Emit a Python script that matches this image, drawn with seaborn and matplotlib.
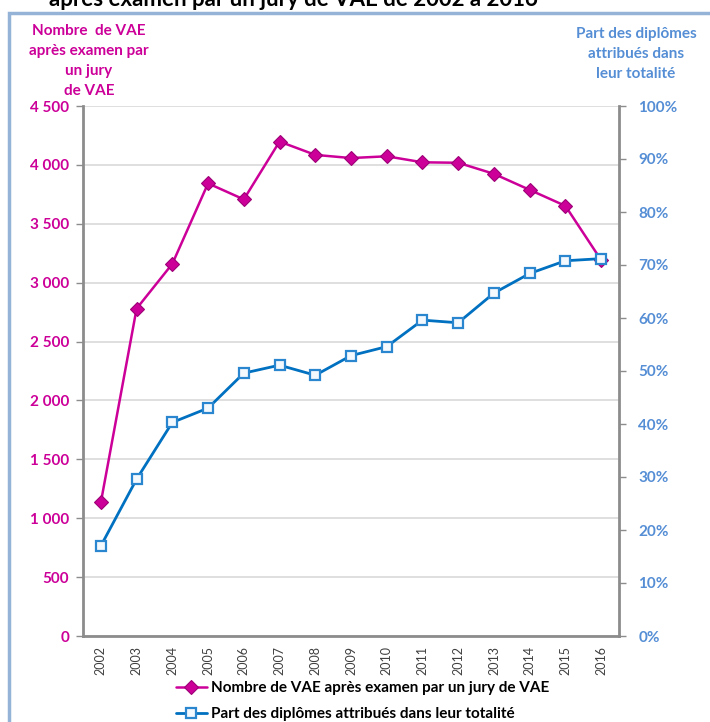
import matplotlib
matplotlib.use("Agg")
import matplotlib.pyplot as plt
import seaborn as sns
import numpy as np
from matplotlib.lines import Line2D
from matplotlib.patches import Rectangle
from matplotlib.ticker import FuncFormatter, MultipleLocator

years = [2002, 2003, 2004, 2005, 2006, 2007, 2008, 2009, 2010, 2011, 2012, 2013, 2014, 2015, 2016]
nombre_vae = [1135, 2780, 3160, 3843, 3707, 4198, 4085, 4058, 4073, 4022, 4018, 3924, 3788, 3652, 3192]
part_diplomes = [17.0, 29.6, 40.3, 43.0, 49.6, 51.1, 49.2, 52.9, 54.6, 59.6, 59.1, 64.7, 68.4, 70.8, 71.2]

label_left = "Nombre  de VAE\naprès examen par\nun jury\nde VAE"
label_right = "Part des diplômes\nattribués dans\nleur totalité"
legend_labels = ["Nombre de VAE après examen par un jury de VAE",
                 "Part des diplômes attribués dans leur totalité"]
title_line = "après examen par un jury de VAE de 2002 à 2016"

PINK = "#CC0099"
BLUE = "#0070C0"
RBLUE = "#558ED5"
GRID = "#D9D9D9"
SPINE = "#8C8C8C"

sns.set_theme(style="white")
plt.rcParams["font.family"] = ["Lato", "DejaVu Sans"]

fig = plt.figure(figsize=(7.1, 7.22), dpi=100)
W, H = 710, 722
ax = fig.add_axes([83 / W, 1 - 636 / H, (619 - 83) / W, (636 - 106) / H])
ax2 = ax.twinx()

sns.lineplot(x=years, y=nombre_vae, ax=ax, color=PINK, linewidth=1.8,
             marker="D", markersize=7, markerfacecolor=PINK, markeredgecolor="#9E0077",
             markeredgewidth=0.8)
sns.lineplot(x=years, y=part_diplomes, ax=ax2, color=BLUE, linewidth=2.0,
             marker="s", markersize=7.5, markerfacecolor="#F4F9FE", markeredgecolor="#2A86CF",
             markeredgewidth=1.6)

ax.set_xlim(years[0] - 0.5, years[-1] + 0.5)
ax.set_ylim(0, 4500)
ax2.set_ylim(0, 100)
ax.yaxis.set_major_locator(MultipleLocator(500))
ax2.yaxis.set_major_locator(MultipleLocator(10))
ax.yaxis.set_major_formatter(FuncFormatter(lambda v, p: f"{int(v):,}".replace(",", " ")))
ax2.yaxis.set_major_formatter(FuncFormatter(lambda v, p: f"{int(v)}%"))

ax.set_xticks(years)
ax.set_xticklabels([str(y) for y in years], rotation=90, fontsize=9, color="#404040")
ax.set_xticks([y + 0.5 for y in [years[0] - 1] + years], minor=True)
ax.tick_params(axis="x", which="major", length=0, pad=7)
ax.tick_params(axis="x", which="minor", length=5, width=1, color=SPINE, direction="out")
ax.tick_params(axis="y", length=5, width=1, color=SPINE, direction="out", labelsize=11,
               labelcolor=PINK, pad=5, left=True)
ax2.tick_params(axis="y", length=5, width=1, color=SPINE, direction="out", labelsize=11,
                labelcolor=RBLUE, pad=9, right=True)
for lbl in ax.get_yticklabels():
    lbl.set_fontweight("bold")
for lbl in ax2.get_yticklabels():
    lbl.set_fontweight("bold")

ax.grid(axis="y", color=GRID, linewidth=1.2)
ax.set_axisbelow(True)
ax.set_xlabel("")
ax.set_ylabel("")
ax2.set_ylabel("")

for a in (ax, ax2):
    a.spines["top"].set_visible(False)
    for s in ("left", "right", "bottom"):
        a.spines[s].set_color(SPINE)
        a.spines[s].set_linewidth(2)
ax2.spines["left"].set_visible(False)
ax2.spines["bottom"].set_visible(False)
ax.spines["right"].set_visible(False)

fig.text(89 / W, 1 - 24 / H, label_left, ha="center", va="top", color=PINK,
         fontsize=11, fontweight="bold", linespacing=1.55)
fig.text(636 / W, 1 - 27 / H, label_right, ha="center", va="top", color=RBLUE,
         fontsize=11, fontweight="bold", linespacing=1.55)

fig.text(293 / W, 1 - 6 / H, title_line, ha="center", va="baseline", color="black",
         fontsize=16, fontweight="bold")

fig.patches.append(Rectangle((9 / W, -0.05), 1.0, 1 - 13 / H + 0.05, transform=fig.transFigure,
                             fill=False, edgecolor="#95B3D7", linewidth=2.5, clip_on=False))

handles = [
    Line2D([], [], color=PINK, linewidth=1.8, marker="D", markersize=7,
           markerfacecolor=PINK, markeredgecolor="#9E0077", markeredgewidth=0.8),
    Line2D([], [], color=BLUE, linewidth=2.0, marker="s", markersize=7.5,
           markerfacecolor="#F4F9FE", markeredgecolor="#2A86CF", markeredgewidth=1.6),
]
leg = fig.legend(handles, legend_labels, loc="upper left", bbox_to_anchor=(176 / W, 1 - 681 / H),
                 frameon=False, handlelength=2.0, handletextpad=0.3, labelspacing=0.78,
                 borderaxespad=0, borderpad=0, prop={"size": 11, "weight": "bold"})
for t in leg.get_texts():
    t.set_color("black")

fig.savefig("out.png", dpi=100)
